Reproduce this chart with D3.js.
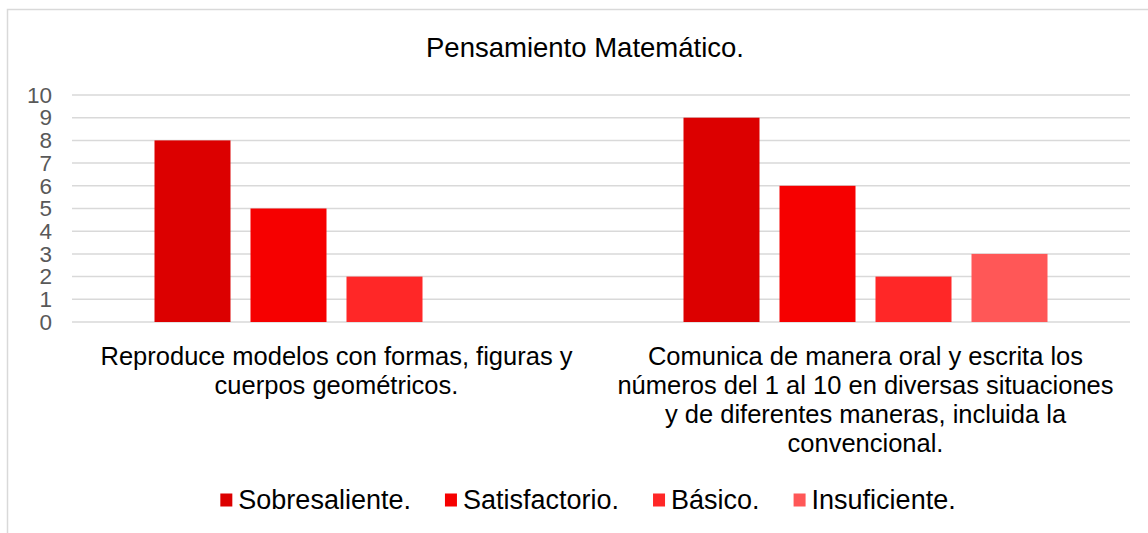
<!DOCTYPE html>
<html>
<head>
<meta charset="utf-8">
<script src="https://cdn.jsdelivr.net/npm/d3@7"></script>
<style>
  body { margin: 0; background: #fff; }
  svg { display: block; font-family: "Liberation Sans", Arial, sans-serif; }
</style>
</head>
<body>
<div id="chart"></div>
<script>
// Data
const categories = [
    "Reproduce modelos con formas, figuras y cuerpos geométricos.",
    "Comunica de manera oral y escrita los números del 1 al 10 en diversas situaciones y de diferentes maneras, incluida la convencional."
];
const categoryLines = [
    ["Reproduce modelos con formas, figuras y", "cuerpos geométricos."],
    ["Comunica de manera oral y escrita los", "números del 1 al 10 en diversas situaciones", "y de diferentes maneras, incluida la", "convencional."]
];
const seriesNames = ["Sobresaliente.", "Satisfactorio.", "Básico.", "Insuficiente."];
const sobresaliente = [8, 9];
const satisfactorio = [5, 6];
const basico = [2, 2];
const insuficiente = [0, 3];
const yTicks = [0, 1, 2, 3, 4, 5, 6, 7, 8, 9, 10];
const colors = ["#dc0000", "#f60000", "#ff2727", "#ff5757"];

const seriesValues = [sobresaliente, satisfactorio, basico, insuficiente];

const width = 1148, height = 533;
const plot = { left: 72, right: 1130, top: 95, bottom: 322 };

const svg = d3.select("#chart")
    .append("svg")
    .attr("width", width)
    .attr("height", height);

// Outer chart frame (cropped at right and bottom)
svg.append("rect")
    .attr("x", 7.5).attr("y", 9.5)
    .attr("width", 1300).attr("height", 700)
    .attr("fill", "#fff")
    .attr("stroke", "#d9d9d9")
    .attr("stroke-width", 1.5);

// Title
svg.append("text")
    .attr("x", 585)
    .attr("y", 57)
    .attr("text-anchor", "middle")
    .attr("font-size", "27.5px")
    .attr("fill", "#000")
    .text("Pensamiento Matemático.");

// Scales
const x0 = d3.scaleBand()
    .domain(categories)
    .range([plot.left, plot.right])
    .padding(0);

const bandPad = 82.5;
const x1 = d3.scaleBand()
    .domain(seriesNames)
    .range([bandPad, x0.bandwidth() - bandPad])
    .paddingInner(20 / 96)
    .paddingOuter(0);

const y = d3.scaleLinear()
    .domain([0, 10])
    .range([plot.bottom, plot.top]);

const color = d3.scaleOrdinal().domain(seriesNames).range(colors);

// Gridlines
svg.append("g")
    .attr("class", "grid")
    .selectAll("line")
    .data(yTicks)
    .enter()
    .append("line")
    .attr("x1", plot.left)
    .attr("x2", plot.right)
    .attr("y1", d => y(d))
    .attr("y2", d => y(d))
    .attr("stroke", "#d9d9d9")
    .attr("stroke-width", 1.5);

// Y axis labels
const yAxis = d3.axisLeft(y).tickValues(yTicks).tickSize(0).tickPadding(0);
const yg = svg.append("g")
    .attr("transform", `translate(52,0)`)
    .call(yAxis);
yg.select(".domain").remove();
yg.selectAll("text")
    .attr("font-size", "22.5px")
    .attr("font-family", "'Liberation Sans', Arial, sans-serif")
    .attr("fill", "#595959");

// Bars
const groups = svg.append("g")
    .attr("class", "bars")
    .selectAll("g")
    .data(categories)
    .enter()
    .append("g")
    .attr("transform", d => `translate(${x0(d)},0)`);

groups.selectAll("rect")
    .data((d, ci) => seriesNames.map((s, si) => ({ series: s, value: seriesValues[si][ci] })))
    .enter()
    .append("rect")
    .attr("x", d => x1(d.series))
    .attr("width", x1.bandwidth())
    .attr("y", d => y(d.value))
    .attr("height", d => y(0) - y(d.value))
    .attr("fill", d => color(d.series))
    .attr("display", d => d.value === 0 ? "none" : null);

// Category labels
const catLabels = svg.append("g")
    .attr("class", "cat-labels")
    .selectAll("text")
    .data(categories)
    .enter()
    .append("text")
    .attr("text-anchor", "middle")
    .attr("font-size", "25.5px")
    .attr("fill", "#000");

catLabels.each(function(d, i) {
    const cx = x0(d) + x0.bandwidth() / 2;
    d3.select(this).selectAll("tspan")
        .data(categoryLines[i])
        .enter()
        .append("tspan")
        .attr("x", cx)
        .attr("y", (l, j) => 365 + j * 29)
        .text(l => l);
});

// Legend
const legend = svg.append("g").attr("class", "legend");
const legendItems = legend.selectAll("g")
    .data(seriesNames)
    .enter()
    .append("g");

legendItems.append("rect")
    .attr("width", 12)
    .attr("height", 13)
    .attr("y", -6.5)
    .attr("fill", d => color(d));

legendItems.append("text")
    .attr("x", 18)
    .attr("dy", "0.35em")
    .attr("font-size", "27px")
    .attr("fill", "#000")
    .text(d => d);

// Lay out legend items centered
let offset = 0;
const positions = [];
legendItems.each(function() {
    const w = 18 + this.querySelector("text").getComputedTextLength();
    positions.push(offset);
    offset += w + 34;
});
const totalW = offset - 34;
const startX = 588 - totalW / 2;
legendItems.attr("transform", (d, i) => `translate(${startX + positions[i]},500)`);
</script>
</body>
</html>
